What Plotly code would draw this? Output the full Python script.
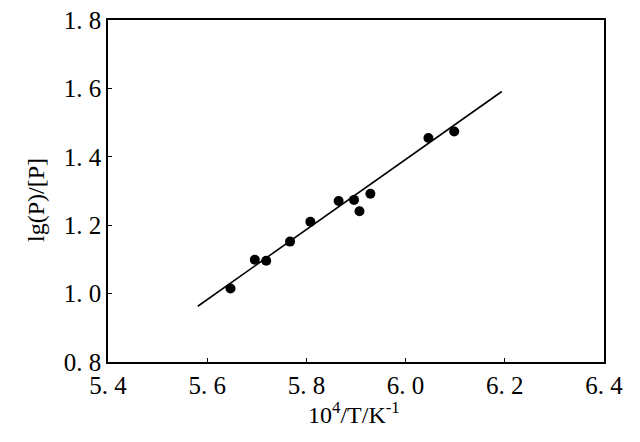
import plotly.graph_objects as go

# data
x_pts = [5.647, 5.696, 5.719, 5.767, 5.808, 5.865, 5.896, 5.907, 5.929, 6.046, 6.098]
y_pts = [1.015, 1.099, 1.096, 1.152, 1.210, 1.271, 1.274, 1.241, 1.292, 1.455, 1.474]
fit_x = [5.581, 6.194]
fit_y = [0.963, 1.591]

x_ticks = [5.4, 5.6, 5.8, 6.0, 6.2, 6.4]
x_ticklabels = ["5. 4", "5. 6", "5. 8", "6. 0", "6. 2", "6. 4"]
y_ticks = [0.8, 1.0, 1.2, 1.4, 1.6, 1.8]
y_ticklabels = ["0. 8", "1. 0", "1. 2", "1. 4", "1. 6", "1. 8"]

font_family = "Liberation Serif"

fig = go.Figure()
fig.add_trace(go.Scatter(x=fit_x, y=fit_y, mode="lines",
                         line=dict(color="black", width=1.6), showlegend=False))
fig.add_trace(go.Scatter(x=x_pts, y=y_pts, mode="markers",
                         marker=dict(color="black", size=10), showlegend=False))

axis_common = dict(showgrid=False, zeroline=False, showline=True, linecolor="black",
                   linewidth=1.5, mirror=True, ticks="inside", ticklen=4,
                   tickcolor="black", tickwidth=1.2, automargin=False,
                   ticklabeloverflow="allow",
                   tickfont=dict(family=font_family, size=25, color="black"))

fig.update_xaxes(range=[5.4, 6.4], tickvals=x_ticks, ticktext=x_ticklabels,
                 **axis_common)
fig.update_yaxes(range=[0.8, 1.8], tickvals=y_ticks, ticktext=y_ticklabels,
                 **axis_common)

fig.add_annotation(text="10<sup>4</sup>/T/K<sup>-1</sup>", xref="paper", yref="paper",
                   x=0.496, y=-0.15, xanchor="center", yanchor="middle",
                   showarrow=False,
                   font=dict(family=font_family, size=24, color="black"))
fig.add_annotation(text="lg(P)/[P]", xref="paper", yref="paper",
                   x=-0.145, y=0.474, xanchor="center", yanchor="middle",
                   textangle=-90, showarrow=False,
                   font=dict(family=font_family, size=24, color="black"))

# the page adds an 8 px body margin, so the figure is sized to fit the window
fig.update_layout(width=632, height=434,
                  margin=dict(l=100, r=36, t=12, b=80),
                  plot_bgcolor="white", paper_bgcolor="white",
                  font=dict(family=font_family, color="black"))

fig.write_html("out.html")
